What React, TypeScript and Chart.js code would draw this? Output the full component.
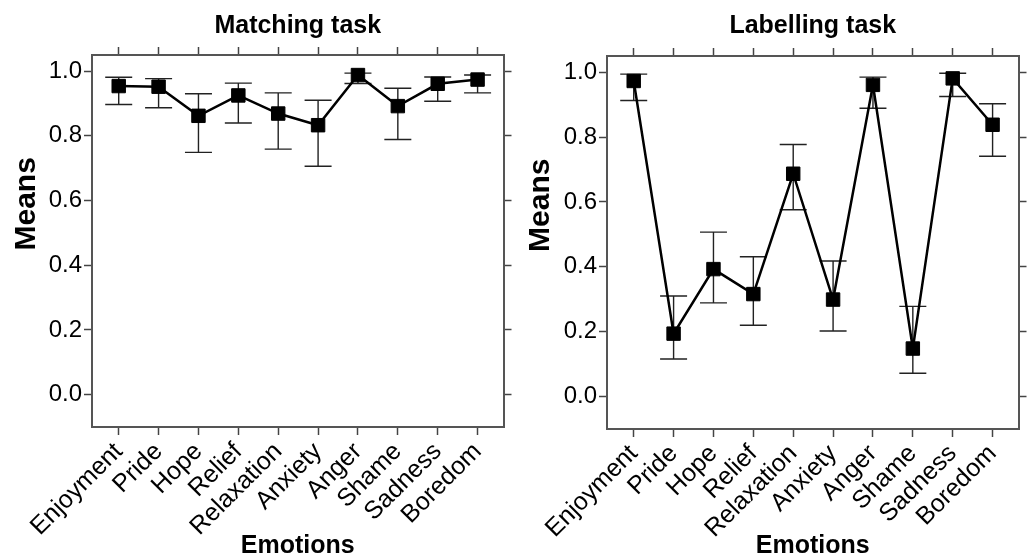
import React, { useEffect, useRef } from "react";
import { Chart, registerables } from "chart.js";

Chart.register(...registerables);

const emotions = ["Enjoyment", "Pride", "Hope", "Relief", "Relaxation", "Anxiety", "Anger", "Shame", "Sadness", "Boredom"];

const matchingMeans = [0.954, 0.952, 0.862, 0.925, 0.869, 0.833, 0.988, 0.892, 0.961, 0.974];
const matchingUpper = [0.981, 0.977, 0.930, 0.963, 0.933, 0.910, 0.994, 0.947, 0.982, 0.988];
const matchingLower = [0.897, 0.887, 0.749, 0.840, 0.759, 0.706, 0.962, 0.789, 0.907, 0.933];

const labellingMeans = [0.973, 0.194, 0.393, 0.316, 0.687, 0.299, 0.961, 0.148, 0.981, 0.838];
const labellingUpper = [0.994, 0.310, 0.507, 0.431, 0.777, 0.418, 0.985, 0.278, 0.997, 0.903];
const labellingLower = [0.913, 0.116, 0.289, 0.220, 0.576, 0.202, 0.889, 0.072, 0.925, 0.741];

const yTickValues = [0, 0.2, 0.4, 0.6, 0.8, 1.0];

const FONT = "'Liberation Sans', Arial, Helvetica, sans-serif";

type PanelProps = {
  title: string;
  means: number[];
  upper: number[];
  lower: number[];
  left: number;
  width: number;
  areaLeft: number;
  areaTop: number;
  areaBottom: number;
};

function Panel({ title, means, upper, lower, left, width, areaLeft, areaTop, areaBottom }: PanelProps) {
  const ref = useRef<HTMLCanvasElement | null>(null);

  useEffect(() => {
    if (!ref.current) return;
    const H = 560;

    const errorBars = {
      id: "errorBars",
      beforeDatasetsDraw(chart: any) {
        const { ctx } = chart;
        const xs = chart.scales.x;
        const ys = chart.scales.y;
        ctx.save();
        ctx.strokeStyle = "#222";
        ctx.lineWidth = 1.4;
        upper.forEach((u, i) => {
          const x = xs.getPixelForValue(i);
          const yu = ys.getPixelForValue(u);
          const yl = ys.getPixelForValue(lower[i]);
          ctx.beginPath();
          ctx.moveTo(x, yu);
          ctx.lineTo(x, yl);
          ctx.moveTo(x - 13.5, yu);
          ctx.lineTo(x + 13.5, yu);
          ctx.moveTo(x - 13.5, yl);
          ctx.lineTo(x + 13.5, yl);
          ctx.stroke();
        });
        ctx.restore();
      },
    };

    const yTitle = {
      id: "yTitle",
      afterDraw(chart: any) {
        const { ctx, chartArea } = chart;
        const y = chartArea.top + (chartArea.bottom - chartArea.top) * 0.4;
        ctx.save();
        ctx.translate(27, y);
        ctx.rotate(-Math.PI / 2);
        ctx.font = `bold 30px ${FONT}`;
        ctx.fillStyle = "#000";
        ctx.textAlign = "center";
        ctx.textBaseline = "middle";
        ctx.fillText("Means", 0, 0);
        ctx.restore();
      },
    };

    const xMin = -0.67;
    const xMax = 9.65;
    const catTicks = (a: any) => {
      a.ticks = emotions.map((_, i) => ({ value: i }));
    };
    const yTicks = (a: any) => {
      a.ticks = yTickValues.map((v) => ({ value: v }));
    };
    const grid = {
      drawOnChartArea: false,
      drawTicks: true,
      tickLength: 8,
      tickColor: "#444",
      tickWidth: 1.5,
    };
    const border = { display: true, color: "#555", width: 2 };

    const chart = new Chart(ref.current, {
      type: "scatter",
      data: {
        datasets: [
          {
            data: means.map((m, i) => ({ x: i, y: m })),
            showLine: true,
            borderColor: "#000",
            borderWidth: 2.5,
            pointStyle: "rect",
            pointRadius: 9.5,
            pointBackgroundColor: "#000",
            pointBorderColor: "#000",
            pointBorderWidth: 1,
          },
        ],
      },
      options: {
        animation: false,
        responsive: false,
        layout: { padding: 0 },
        plugins: {
          legend: { display: false },
          tooltip: { enabled: false },
          title: {
            display: true,
            text: title,
            fullSize: false,
            color: "#000",
            font: { family: FONT, size: 25, weight: "bold", lineHeight: 1.2 },
            padding: { top: 11, bottom: areaTop - 8 - 30 - 11 },
          },
        },
        scales: {
          x: {
            type: "linear",
            position: "bottom",
            min: xMin,
            max: xMax,
            afterBuildTicks: catTicks,
            ticks: {
              autoSkip: false,
              minRotation: 45,
              maxRotation: 45,
              padding: 2,
              color: "#000",
              font: { family: FONT, size: 25 },
              callback: (v: any) => emotions[Math.round(v)] ?? "",
            },
            grid,
            border,
            title: {
              display: true,
              text: "Emotions",
              color: "#000",
              font: { family: FONT, size: 25, weight: "bold", lineHeight: 1 },
              padding: { top: 0, bottom: 1 },
            },
            afterFit: (s: any) => {
              s.height = H - areaBottom;
            },
          },
          x2: {
            type: "linear",
            position: "top",
            min: xMin,
            max: xMax,
            afterBuildTicks: catTicks,
            ticks: { display: false },
            grid,
            border,
            afterFit: (s: any) => {
              s.height = 8;
            },
          },
          y: {
            type: "linear",
            position: "left",
            min: -0.1,
            max: 1.05,
            afterBuildTicks: yTicks,
            ticks: {
              padding: 2,
              color: "#000",
              font: { family: FONT, size: 24 },
              callback: (v: any) => Number(v).toFixed(1),
            },
            grid,
            border,
            afterFit: (s: any) => {
              s.width = areaLeft;
            },
          },
          y2: {
            type: "linear",
            position: "right",
            min: -0.1,
            max: 1.05,
            afterBuildTicks: yTicks,
            ticks: { display: false },
            grid,
            border,
            afterFit: (s: any) => {
              s.width = 7;
            },
          },
        },
      } as any,
      plugins: [errorBars, yTitle],
    });
    return () => chart.destroy();
  }, []);

  return (
    <div style={{ position: "absolute", left, top: 0, width, height: 560 }}>
      <canvas ref={ref} width={width} height={560} style={{ display: "block" }} />
    </div>
  );
}

export default function App() {
  return (
    <div style={{ position: "absolute", left: 0, top: 0, width: 1029, height: 560, background: "#fff" }}>
      <Panel
        title="Matching task"
        means={matchingMeans}
        upper={matchingUpper}
        lower={matchingLower}
        left={0}
        width={514}
        areaLeft={92}
        areaTop={55}
        areaBottom={427}
      />
      <Panel
        title="Labelling task"
        means={labellingMeans}
        upper={labellingUpper}
        lower={labellingLower}
        left={514}
        width={515}
        areaLeft={93}
        areaTop={56}
        areaBottom={429}
      />
    </div>
  );
}
